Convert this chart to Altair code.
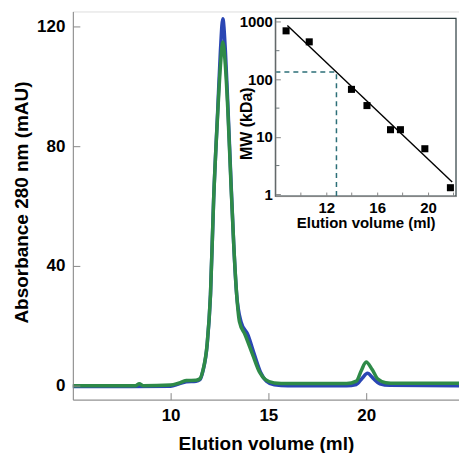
import altair as alt
import pandas as pd

# ---------------- main chromatogram ----------------
blue_x = [5.0, 8.0, 10.0, 10.4, 10.8, 11.3, 11.5, 11.65, 11.87, 12.04, 12.2, 12.41, 12.55, 12.67,
          12.8, 12.92, 13.09, 13.23, 13.38, 13.6, 13.95, 14.29, 14.6, 14.9, 15.3, 16.0,
          19.0, 19.5, 19.8, 20.07, 20.35, 20.7, 21.2, 24.75]
blue_y = [-0.3, -0.3, -0.2, 0.5, 1.3, 1.5, 2.0, 4.8, 13.7, 30.3, 62.0, 92.0, 112.0, 122.6,
          112.0, 95.0, 68.0, 47.0, 30.3, 21.4, 17.0, 10.3, 4.5, 1.5, 0.3, 0.0,
          0.0, 0.4, 2.5, 4.1, 2.5, 0.6, 0.1, 0.0]

green_x = [5.0, 8.2, 8.4, 8.6, 10.0, 10.4, 10.8, 11.3, 11.5, 11.65, 11.87, 12.04, 12.2, 12.41,
           12.55, 12.67, 12.8, 12.92, 13.09, 13.23, 13.38, 13.52, 13.81, 14.2, 14.55, 14.85,
           15.3, 16.0, 19.0, 19.5, 19.75, 20.0, 20.3, 20.6, 21.0, 21.5, 24.75]
green_y = [0.0, 0.0, 0.6, 0.0, 0.2, 0.8, 1.7, 1.8, 2.3, 5.0, 14.0, 30.5, 62.0, 91.0,
           107.0, 114.8, 107.0, 93.0, 67.0, 47.0, 30.3, 21.4, 17.0, 10.3, 4.5, 2.0,
           0.9, 0.7, 0.7, 1.5, 5.0, 7.9, 5.5, 2.2, 1.0, 0.8, 0.8]

main_x_domain = [5.0, 24.75]
main_y_domain = [-4.67, 125.0]
main_x_ticks = [10, 15, 20]
main_y_ticks = [0, 40, 80, 120]

# ---------------- inset: calibration ----------------
std_vol = [8.84, 10.66, 13.98, 15.2, 17.05, 17.83, 19.75, 21.76]
std_mw = [700, 450, 67, 35, 13.3, 13.3, 6.2, 1.3]
fit_vol = [8.94, 21.9]
fit_mw = [870, 1.63]
sample_vol = 12.8
sample_mw = 134

inset_x_domain = [8.0, 22.2]
inset_y_domain = [0.93, 1150]
inset_x_ticks = [10, 12, 14, 16, 18, 20, 22]
inset_y_ticks = [1, 10, 100, 1000]
inset_y_minor = [3.16, 31.6, 316]

FONT = "Liberation Sans"
AX = "#2b3b3e"
BLUE = "#2a46b4"
GREEN = "#2e8a48"

main_df_b = pd.DataFrame({"vol": blue_x, "abs": blue_y})
main_df_g = pd.DataFrame({"vol": green_x, "abs": green_y})

mx_scale = alt.Scale(domain=main_x_domain, nice=False, zero=False)
my_scale = alt.Scale(domain=main_y_domain, nice=False, zero=False)

common = dict(labelFont=FONT, titleFont=FONT, labelFontWeight="bold", titleFontWeight="bold",
              labelColor="black", titleColor="black", grid=False)

mx_axis = alt.Axis(values=main_x_ticks, title="Elution volume (ml)",
                   tickSize={"expr": "-7"}, labelPadding=15, titlePadding=11,
                   labelFontSize=17, titleFontSize=19, zindex=1, **common)
my_axis = alt.Axis(values=main_y_ticks, title="Absorbance 280 nm (mAU)",
                   tickSize={"expr": "-7"}, labelPadding=15, titleX=-51, titleY=191,
                   titleBaseline="middle", labelFontSize=17, titleFontSize=19, zindex=1,
                   **common)

blue_line = alt.Chart(main_df_b).mark_line(color=BLUE, strokeWidth=3.5, interpolate="monotone").encode(
    x=alt.X("vol:Q", scale=mx_scale, axis=mx_axis),
    y=alt.Y("abs:Q", scale=my_scale, axis=my_axis),
)
green_line = alt.Chart(main_df_g).mark_line(color=GREEN, strokeWidth=3.5, interpolate="monotone").encode(
    x=alt.X("vol:Q", scale=mx_scale, axis=mx_axis),
    y=alt.Y("abs:Q", scale=my_scale, axis=my_axis),
)
main = alt.layer(blue_line, green_line)

ix_scale = alt.Scale(domain=inset_x_domain, range=[203, 384], nice=False, zero=False)
iy_scale = alt.Scale(type="log", domain=inset_y_domain, range=[185, 7], nice=False)

ix_axis = alt.Axis(orient="bottom", offset=-204, values=inset_x_ticks,
                   labelExpr="datum.value % 4 == 0 ? datum.label : ''",
                   title="Elution volume (ml)", tickSize={"expr": "-4"},
                   labelPadding=8, titlePadding=1, labelFontSize=15, titleFontSize=15,
                   zindex=2, **common)
iy_axis = alt.Axis(orient="left", offset=-203, values=inset_y_ticks, format="d",
                   title="MW (kDa)", tickSize={"expr": "-5"},
                   labelPadding=8, titleX=-29, titleY=112, titleBaseline="middle",
                   labelFontSize=15, titleFontSize=16, zindex=2, **common)

frame_df = pd.DataFrame({"vol": [inset_x_domain[0]], "vol2": [inset_x_domain[1]],
                         "mw": [inset_y_domain[0]], "mw2": [inset_y_domain[1]]})
frame = alt.Chart(frame_df).mark_rect(fill="white", stroke=AX, strokeWidth=1.2).encode(
    x=alt.X("vol:Q", scale=ix_scale, axis=ix_axis), x2="vol2:Q",
    y=alt.Y("mw:Q", scale=iy_scale, axis=iy_axis), y2="mw2:Q",
)

hdash_df = pd.DataFrame({"vol": [inset_x_domain[0]], "vol2": [sample_vol], "mw": [sample_mw]})
hdash = alt.Chart(hdash_df).mark_rule(color="#2c6f78", strokeDash=[5, 4], strokeWidth=1.5).encode(
    x=alt.X("vol:Q", scale=ix_scale, axis=ix_axis), x2="vol2:Q",
    y=alt.Y("mw:Q", scale=iy_scale, axis=iy_axis),
)
vdash_df = pd.DataFrame({"vol": [sample_vol], "mw": [inset_y_domain[0]], "mw2": [sample_mw]})
vdash = alt.Chart(vdash_df).mark_rule(color="#2c6f78", strokeDash=[5, 4], strokeWidth=1.5).encode(
    x=alt.X("vol:Q", scale=ix_scale, axis=ix_axis),
    y=alt.Y("mw:Q", scale=iy_scale, axis=iy_axis), y2="mw2:Q",
)

fit_df = pd.DataFrame({"vol": fit_vol, "mw": fit_mw})
fit = alt.Chart(fit_df).mark_line(color="black", strokeWidth=1.4).encode(
    x=alt.X("vol:Q", scale=ix_scale, axis=ix_axis),
    y=alt.Y("mw:Q", scale=iy_scale, axis=iy_axis),
)

std_df = pd.DataFrame({"vol": std_vol, "mw": std_mw})
pts = alt.Chart(std_df).mark_square(color="black", size=50, opacity=1).encode(
    x=alt.X("vol:Q", scale=ix_scale, axis=ix_axis),
    y=alt.Y("mw:Q", scale=iy_scale, axis=iy_axis),
)

minor_df = pd.DataFrame({"mw": inset_y_minor})
minor = alt.Chart(minor_df).mark_tick(orient="horizontal", color=AX, size=4, thickness=1,
                                      xOffset=2).encode(
    x=alt.X(datum=inset_x_domain[0], scale=ix_scale, axis=ix_axis),
    y=alt.Y("mw:Q", scale=iy_scale, axis=iy_axis),
)

inset = alt.layer(frame, hdash, vdash, fit, pts, minor)

chart = alt.layer(main, inset).resolve_scale(x="independent", y="independent").properties(
    width=387, height=389,
    autosize=alt.AutoSizeParams(type="none"),
    padding={"left": 73, "top": 11, "right": 0, "bottom": 53},
).configure_view(stroke=AX, strokeWidth=1.2).configure_axis(
    labelFont=FONT, titleFont=FONT, labelFontWeight="bold", titleFontWeight="bold",
    labelColor="black", titleColor="black", domainColor=AX, tickColor=AX,
    domainWidth=1.2, tickWidth=1.2,
).configure(background="white")

chart.save("out.html", embed_options={"renderer": "svg", "actions": False})
